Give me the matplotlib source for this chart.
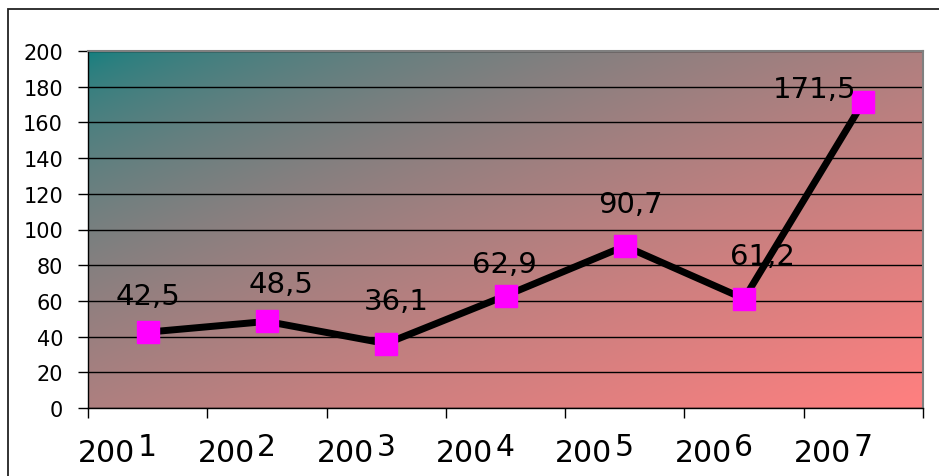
import matplotlib.pyplot as plt
import numpy as np
from matplotlib.colors import LinearSegmentedColormap
from matplotlib.patches import Rectangle

# yearly values
years = ["2001", "2002", "2003", "2004", "2005", "2006", "2007"]
values = [42.5, 48.5, 36.1, 62.9, 90.7, 61.2, 171.5]

# label offsets from each point, in points
label_offsets = [(0, 26), (10, 27), (7, 31), (-1, 23), (4, 30), (13, 31), (-35, 9)]

fig = plt.figure(figsize=(9.39, 4.77), dpi=100)
ax = fig.add_axes([88 / 939, 68 / 477, 835 / 939, 357 / 477])

# diagonal background fill, teal at top-left to salmon at bottom-right
n = 300
u, v = np.meshgrid(np.linspace(0, 1, n), np.linspace(0, 1, n))
grad = ((u + v) / 2) ** 0.6
cmap = LinearSegmentedColormap.from_list("bg", ["#107f7f", "#ff8080"])
ax.imshow(grad, extent=(-0.5, 6.5, 0, 200), origin="upper", aspect="auto",
          cmap=cmap, interpolation="bicubic", zorder=0)

x = np.arange(len(values))
ax.plot(x, values, color="black", lw=5, marker="s", ms=16,
        mfc="#ff00ff", mec="#ff00ff", zorder=3, solid_joinstyle="miter")

# value labels
for i, val in enumerate(values):
    txt = f"{val}".replace(".", ",")
    ax.annotate(txt, (i, val), xytext=label_offsets[i], textcoords="offset points",
                ha="center", va="center", fontsize=21, zorder=4)

ax.set_xlim(-0.5, 6.5)
ax.set_ylim(0, 200)
ax.set_yticks(np.arange(0, 201, 20))
ax.yaxis.grid(True, color="black", lw=1)
ax.set_xticks(np.arange(-0.5, 7, 1))
ax.set_xticklabels([])
ax.tick_params(axis="y", labelsize=15, length=7, width=1, pad=11)
ax.tick_params(axis="x", length=7, width=1)

# year labels: "200" followed by a raised last digit
for i, y in enumerate(years):
    ax.annotate(y[:3], (i, 0), xycoords=ax.get_xaxis_transform(),
                xytext=(-50, -38), textcoords="offset points",
                ha="left", va="baseline", fontsize=21.5, annotation_clip=False)
    ax.annotate(y[3], (i, 0), xycoords=ax.get_xaxis_transform(),
                xytext=(-7, -34), textcoords="offset points",
                ha="left", va="baseline", fontsize=21.5, annotation_clip=False)

for side in ["top", "right"]:
    ax.spines[side].set_color("#808080")
    ax.spines[side].set_linewidth(1.5)
for side in ["left", "bottom"]:
    ax.spines[side].set_linewidth(1)

# chart frame
fig.add_artist(Rectangle((8 / 939, -0.1), 1.0, 1.1 - 10 / 477,
                         transform=fig.transFigure, fill=False,
                         edgecolor="#222222", lw=1.3))

fig.savefig("out.png", dpi=100)
